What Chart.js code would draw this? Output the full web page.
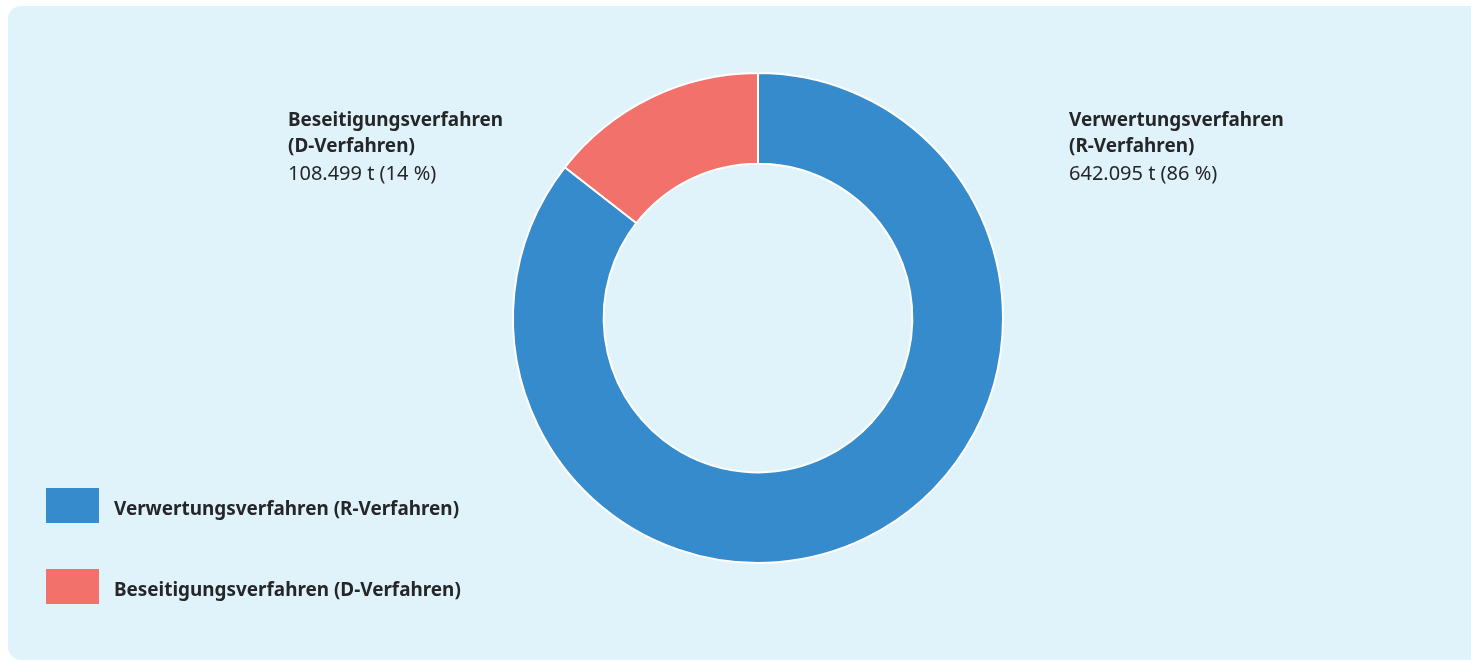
<!DOCTYPE html>
<html>
<head>
<meta charset="utf-8">
<script src="https://cdn.jsdelivr.net/npm/chart.js@4/dist/chart.umd.min.js"></script>
<style>
  html, body { margin: 0; padding: 0; background: #ffffff; width: 1471px; height: 661px; overflow: hidden; }
  #panel { position: absolute; left: 8px; top: 6px; width: 1500px; height: 654px; background: #e0f3fa; border-radius: 13px; }
  #c { position: absolute; left: 0; top: 0; }
</style>
</head>
<body>
<div id="panel"></div>
<canvas id="c" width="1471" height="661"></canvas>
<script>
const categories = ['Verwertungsverfahren (R-Verfahren)', 'Beseitigungsverfahren (D-Verfahren)'];
const labelLines = [['Verwertungsverfahren', '(R-Verfahren)'], ['Beseitigungsverfahren', '(D-Verfahren)']];
const values = [642095, 108499];
const colors = ['#358bcb', '#f2716b'];

const FONT = '"Noto Sans", "Open Sans", sans-serif';
const TEXT_COLOR = '#242628';

function fmtThousands(v) {
  return String(v).replace(/\B(?=(\d{3})+(?!\d))/g, '.');
}
const total = values.reduce((a, b) => a + b, 0);
const valueLabels = values.map(v => fmtThousands(v) + ' t (' + Math.round(v / total * 100) + ' %)');

const labelPlugin = {
  id: 'sideLabels',
  afterDatasetsDraw(chart) {
    const ctx = chart.ctx;
    const meta = chart.getDatasetMeta(0);
    const arc0 = meta.data[0];
    const cx = arc0.x, cy = arc0.y, R = arc0.outerRadius;
    ctx.save();
    ctx.textBaseline = 'middle';
    ctx.fillStyle = TEXT_COLOR;
    meta.data.forEach((arc, i) => {
      const mid = (arc.startAngle + arc.endAngle) / 2;
      const right = Math.cos(mid) >= 0;
      const x = right ? cx + R + 66 : cx - R - 225;
      const y0 = cy - 197;
      ctx.textAlign = 'left';
      ctx.font = 'bold 18.9px ' + FONT;
      ctx.fillText(labelLines[i][0], x, y0);
      ctx.fillText(labelLines[i][1], x, y0 + 26);
      ctx.font = '20px ' + FONT;
      ctx.fillText(valueLabels[i], x, y0 + 53);
    });
    // legend
    categories.forEach((c, i) => {
      const y = 488 + i * 81;
      ctx.fillStyle = colors[i];
      ctx.fillRect(46, y, 53, 35);
      ctx.fillStyle = TEXT_COLOR;
      ctx.font = 'bold 18.9px ' + FONT;
      ctx.textAlign = 'left';
      ctx.fillText(c, 114, y + 22);
    });
    ctx.restore();
  }
};

new Chart(document.getElementById('c'), {
  type: 'doughnut',
  data: {
    labels: categories,
    datasets: [{
      data: values,
      backgroundColor: colors,
      borderColor: '#ffffff',
      borderWidth: 2,
      hoverOffset: 0
    }]
  },
  options: {
    responsive: false,
    animation: false,
    cutout: '63%',
    layout: { padding: { top: 72, bottom: 97, left: 45, right: 0 } },
    plugins: {
      legend: { display: false },
      tooltip: { enabled: false }
    }
  },
  plugins: [labelPlugin]
});
</script>
</body>
</html>
